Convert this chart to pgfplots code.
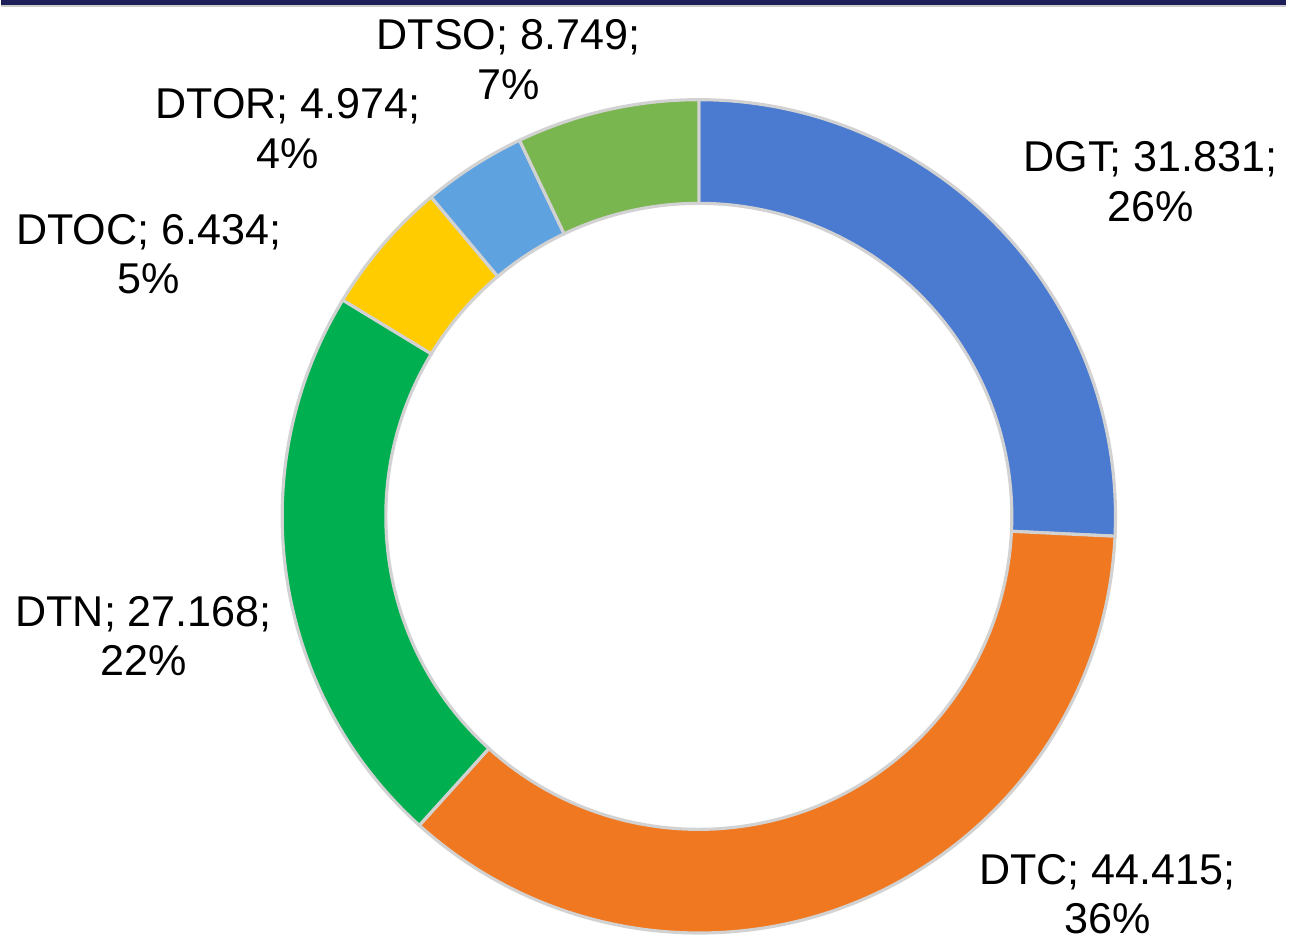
\documentclass[border=0pt]{standalone}
\usepackage{fontspec}
\setmainfont{Liberation Sans}
\usepackage{pgfplots}
\usepackage{pgfplotstable}
\pgfplotsset{compat=1.18}

\definecolor{c0}{RGB}{74,123,208}
\definecolor{c1}{RGB}{240,120,32}
\definecolor{c2}{RGB}{0,176,80}
\definecolor{c3}{RGB}{255,204,0}
\definecolor{c4}{RGB}{94,163,224}
\definecolor{c5}{RGB}{122,182,80}
\definecolor{topbar}{RGB}{30,30,88}

% slices, clockwise from 12 o'clock; lx/ly = label centre (axis units = px)
\pgfplotstableread{
name value lx ly
DGT  31.831 1153 757
DTC  44.415 1110 42
DTN  27.168 143 301
DTOC 6.434 148 684
DTOR 4.974 288 810
DTSO 8.749 509 879
}\slices

\def\S#1{\csname s#1\endcsname}
\def\E#1{\csname e#1\endcsname}

\begin{document}
\begin{tikzpicture}
\def\total{0}
\pgfplotsforeachungrouped \i in {0,...,5}{%
  \pgfplotstablegetelem{\i}{value}\of\slices
  \pgfmathsetmacro\total{\total+\pgfplotsretval}%
}
\def\cum{0}
\pgfplotsforeachungrouped \i in {0,...,5}{%
  \pgfplotstablegetelem{\i}{value}\of\slices
  \let\v\pgfplotsretval
  \expandafter\xdef\csname v\i\endcsname{\v}%
  \pgfmathsetmacro\s{90-360*(\cum/\total)}%
  \pgfmathsetmacro\cum{\cum+\v}%
  \pgfmathsetmacro\e{90-360*(\cum/\total)}%
  \pgfmathtruncatemacro\p{round(100*(\v/\total))}%
  \expandafter\xdef\csname s\i\endcsname{\s}%
  \expandafter\xdef\csname e\i\endcsname{\e}%
  \expandafter\xdef\csname p\i\endcsname{\p}%
  \pgfplotstablegetelem{\i}{name}\of\slices
  \expandafter\xdef\csname n\i\endcsname{\pgfplotsretval}%
  \pgfplotstablegetelem{\i}{lx}\of\slices
  \expandafter\xdef\csname x\i\endcsname{\pgfplotsretval}%
  \pgfplotstablegetelem{\i}{ly}\of\slices
  \expandafter\xdef\csname y\i\endcsname{\pgfplotsretval}%
}
\begin{axis}[
  width=12.89cm, height=9.39cm, scale only axis,
  xmin=0, xmax=1289, ymin=0, ymax=939,
  hide axis, clip=false,
]
\path (axis cs:0,0) rectangle (axis cs:1289,939);
\fill[topbar] (axis cs:0,934) rectangle (axis cs:1289,939);
\draw[gray!40, line width=0.6pt] (axis cs:0,933) -- (axis cs:1289,933);
\pgfplotsinvokeforeach{0,...,5}{
  \fill[c#1, draw=gray!35, line width=0.9pt]
    (axis cs:{700+418*cos(\S{#1})},{421+418*sin(\S{#1})})
    arc[start angle=\S{#1}, end angle=\E{#1}, radius=4.18cm]
    -- (axis cs:{700+314*cos(\E{#1})},{421+314*sin(\E{#1})})
    arc[start angle=\E{#1}, end angle=\S{#1}, radius=3.14cm] -- cycle;
  \node[align=center, font=\fontsize{12.3}{14.2}\selectfont]
    at (axis cs:\csname x#1\endcsname,\csname y#1\endcsname)
    {\csname n#1\endcsname; \csname v#1\endcsname;\\\csname p#1\endcsname\%};
}
\end{axis}
\end{tikzpicture}
\end{document}
